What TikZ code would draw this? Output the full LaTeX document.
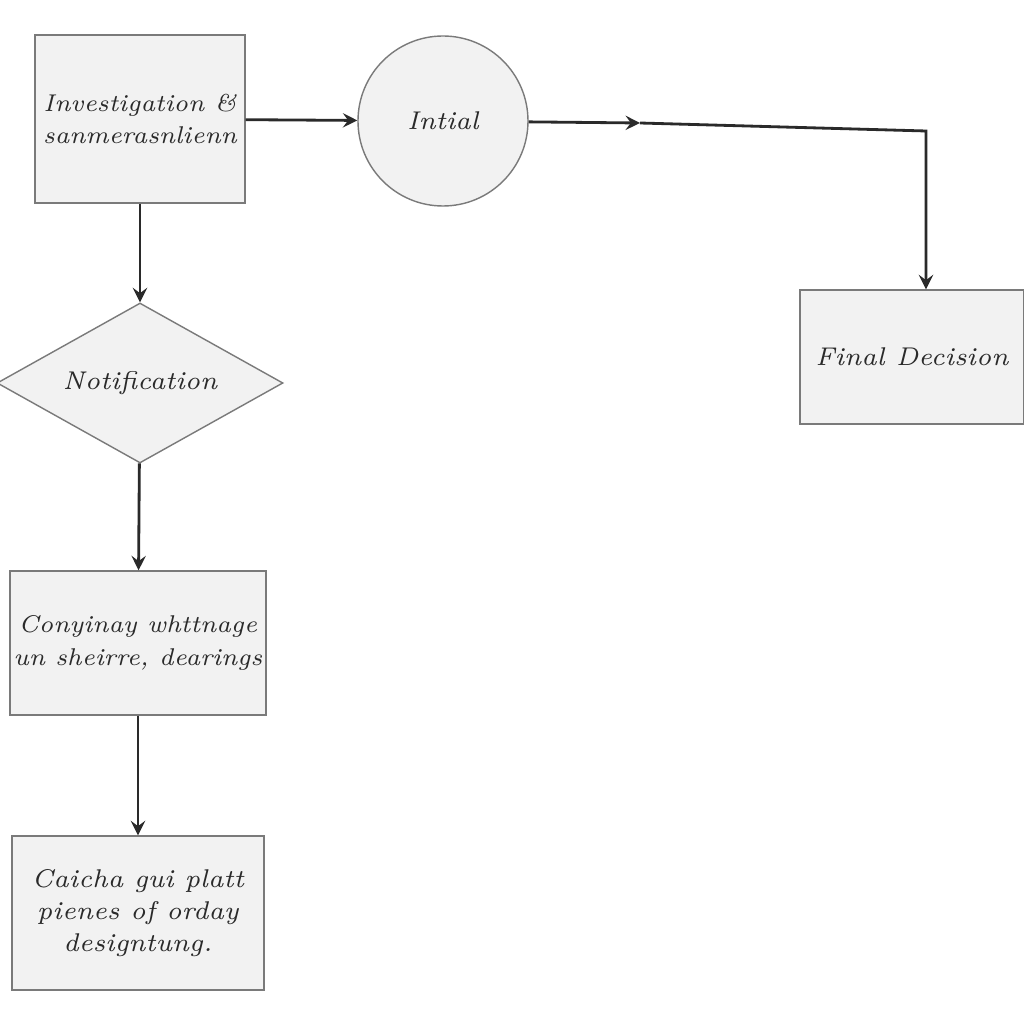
\documentclass[tikz,border=0pt]{standalone}
\usepackage{tikz}
\usetikzlibrary{shapes.geometric, arrows}
\definecolor{boxfill}{HTML}{F2F2F2}
\definecolor{boxline}{HTML}{7A7A7A}
\definecolor{inkcol}{HTML}{2A2A2A}
\tikzstyle{box} = [rectangle, draw=boxline, fill=boxfill, text=inkcol, align=center, inner sep=1pt, font=\fontsize{6.9}{9.2}\selectfont\itshape]
\tikzstyle{start} = [circle, draw=boxline, fill=boxfill, text=inkcol, minimum size=1.70cm, font=\fontsize{7.3}{9.2}\selectfont\itshape]
\tikzstyle{decision} = [diamond, draw=boxline, fill=boxfill, text=inkcol, inner sep=0pt, aspect=1.8, minimum width=2.86cm, minimum height=1.60cm, font=\fontsize{7.3}{9.2}\selectfont\itshape]
\tikzstyle{arrow} = [thick,->,>=stealth,draw=inkcol]

\begin{document}
\begin{tikzpicture}
\useasboundingbox[fill=white] (0,0) rectangle (10.24,10.24);

\node (inv) [box, minimum width=2.10cm, minimum height=1.68cm] at (1.40,9.05) {Investigation \&\\ sanmerasnlienn};
\node (init) [start] at (4.43,9.03) {Intial};
\node (final) [box, minimum width=2.24cm, minimum height=1.34cm, font=\fontsize{7.3}{9.2}\selectfont\itshape] at (9.12,6.67) {Final Decision};
\node (notif) [decision] at (1.40,6.41) {Notification};
\node (conf) [box, minimum width=2.55cm, minimum height=1.44cm] at (1.38,3.81) {Conyinay whttnage\\ un sheirre, dearings};
\node (caich) [box, minimum width=2.52cm, minimum height=1.54cm, font=\fontsize{7.3}{9.2}\selectfont\itshape] at (1.38,1.11) {Caicha gui platt\\ pienes of orday\\ designtung.};
\coordinate (mid) at (6.40,9.01);
\coordinate (corner) at (9.26,8.93);

\draw[arrow] (inv) -- (init);
\draw[arrow] (init) -- (mid);
\draw[arrow] (mid) -- (corner) -- (corner |- final.north);
\draw[arrow] (inv) -- (notif);
\draw[arrow] (notif) -- (conf);
\draw[arrow] (conf) -- (caich);
\end{tikzpicture}
\end{document}
